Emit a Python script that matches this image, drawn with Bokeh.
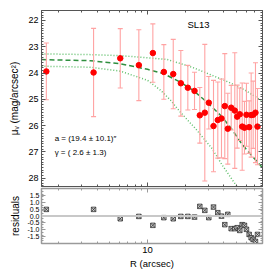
from bokeh.plotting import figure
from bokeh.layouts import column
from bokeh.models import Range1d, FixedTicker, LogAxis, LinearAxis, Span, Label
from bokeh.embed import file_html
from bokeh.resources import INLINE

FONT = "Liberation Sans"

# ---- data ----
radius = [1.594, 3.756, 6.095, 8.54, 11.01, 13.44, 15.94, 18.29, 20.77, 23.45,
          25.81, 28.26, 30.38, 33.09, 35.77, 38.25, 40.61, 42.88, 45.62, 48.68,
          50.85, 53.31, 55.68, 58.04, 60.18, 63.21, 65.54, 67.97, 70.87, 73.48]
mu = [23.94, 23.98, 23.44, 23.70, 23.24, 23.96, 24.04, 24.39, 24.56, 24.68,
      25.61, 25.51, 25.13, 26.02, 25.79, 25.73, 25.26, 26.12, 25.32, 25.43,
      25.66, 25.57, 26.04, 26.08, 25.59, 26.06, 25.60, 25.59, 25.51, 26.04]
mu_err = [1.08, 1.68, 1.13, 1.35, 1.11, 1.04, 1.32, 1.25, 0.85, 0.71,
          1.06, 2.60, 1.00, 1.74, 1.45, 1.50, 2.00, 1.35, 0.85, 2.20,
          1.20, 1.00, 1.66, 1.00, 1.20, 1.00, 1.60, 1.28, 1.90, 1.45]
residual = [0.48, 0.48, -0.20, -0.03, -0.68, -0.12, -0.20, -0.03, -0.03, -0.08,
            0.70, 0.41, -0.12, 0.65, 0.24, -0.01, -0.63, 0.12, -0.92, -0.92,
            -0.85, -1.05, -0.63, -0.68, -0.97, -1.34, -1.58, -1.70, -1.85, -1.34]

model_r = [1.46, 3.56, 6.13, 10.0, 13.44, 18.2, 23.15, 29.5, 37.6, 45.0, 55.7, 70.8, 80.5]
model_mu = [23.49, 23.53, 23.65, 23.86, 24.03, 24.35, 24.68, 25.12, 25.61, 26.06, 26.72, 27.30, 27.60]
upper_r = [1.46, 3.56, 6.13, 10.0, 14.2, 22.5, 32.3, 43.6, 59.1, 75.0, 80.5]
upper_mu = [23.27, 23.30, 23.34, 23.42, 23.48, 23.78, 24.09, 24.35, 24.66, 24.98, 25.05]
lower_r = [1.46, 3.56, 6.13, 10.0, 12.7, 15.2, 18.2, 23.9, 32.3, 38.8, 50.3, 55.0]
lower_mu = [23.74, 23.78, 23.93, 24.28, 24.66, 25.04, 25.50, 26.12, 26.88, 27.51, 28.30, 28.60]

x_major = [10]
x_minor = [2, 3, 4, 5, 6, 7, 8, 9, 20, 30, 40, 50, 60, 70, 80]
y_major = [22, 23, 24, 25, 26, 27, 28]
res_major = [-1.5, -1.0, -0.5, 0.0, 0.5, 1.0, 1.5]
res_labels = ["-1.5", "-1.0", "-0.5", "0.0", "0.5", "1.0", "1.5"]

label_name = "SL13"
label_a = "a = (19.4 \u00b1 10.1)\u2033"
label_g = "\u03b3 = ( 2.6 \u00b1  1.3)"

FRAME = "#555555"
RFRAME = "#9a9a9a"
ERR = "#ffa3a3"

y_minor = [round(21.6 + 0.1 * i, 1) for i in range(1, 68)]
res_minor = [round(-2.0 + 0.2 * i, 1) for i in range(1, 20)]


def style(ax, color, labels=True, size="8.5px", blank=None):
    ax.major_tick_in = 4
    ax.major_tick_out = 0
    ax.minor_tick_in = 2
    ax.minor_tick_out = 0
    ax.axis_line_color = color
    ax.major_tick_line_color = color
    ax.minor_tick_line_color = color
    ax.major_label_text_font = FONT
    ax.major_label_text_color = "black"
    ax.axis_label_text_font = FONT
    ax.axis_label_text_font_style = "normal"
    ax.axis_label_text_color = "black"
    ax.axis_label_text_font_size = "10px"
    ax.major_label_text_font_size = size
    if labels:
        ax.major_label_standoff = 3
    else:
        ax.major_label_standoff = 0
        ax.major_label_text_alpha = 0
        ax.major_label_text_font_size = "1px"
        ax.major_label_overrides = {v: "" for v in blank}


x_range = Range1d(1.46, 80.5)

# ---- top panel ----
p = figure(x_axis_type="log", x_range=x_range, y_range=Range1d(28.32, 21.62),
           frame_width=221, frame_height=176,
           min_border_left=41, min_border_right=4, min_border_top=10, min_border_bottom=1,
           output_backend="svg", toolbar_location=None)
p.grid.visible = False
p.outline_line_color = FRAME
p.background_fill_color = "white"

xt = FixedTicker(ticks=x_major, minor_ticks=x_minor)
yt = FixedTicker(ticks=y_major, minor_ticks=y_minor)
p.xaxis[0].ticker = xt
style(p.xaxis[0], FRAME, labels=False, blank=x_major)
p.yaxis[0].ticker = yt
style(p.yaxis[0], FRAME, labels=True, size="9px")
p.yaxis[0].axis_label = "\u03bc\u1d65 (mag/arcsec\u00b2)"
p.yaxis[0].axis_label_standoff = 5

ra = LinearAxis(ticker=yt)
style(ra, FRAME, labels=False, blank=y_major)
p.add_layout(ra, "right")
ta = LogAxis(ticker=xt)
style(ta, FRAME, labels=False, blank=x_major)
p.add_layout(ta, "above")

p.line(upper_r, upper_mu, line_color="#5fbf6a", line_width=1.5, line_dash="1 2")
p.line(lower_r, lower_mu, line_color="#5fbf6a", line_width=1.5, line_dash="1 2")
p.line(model_r, model_mu, line_color="#2f8f3f", line_width=1.5, line_dash="5 3")

lo = [m - e for m, e in zip(mu, mu_err)]
hi = [m + e for m, e in zip(mu, mu_err)]
p.segment(x0=radius, y0=lo, x1=radius, y1=hi, line_color=ERR, line_width=1.1)
p.scatter(radius, lo, marker="dash", size=5, line_color=ERR, line_width=1.1)
p.scatter(radius, hi, marker="dash", size=5, line_color=ERR, line_width=1.1)
p.scatter(radius, mu, marker="circle", size=5.5, fill_color="#ff0000", line_color="#ff0000")

p.add_layout(Label(x=25.2, y=22.15, text=label_name, text_align="center", text_baseline="middle",
                   text_font=FONT, text_font_size="9.5px", text_color="black"))
p.add_layout(Label(x=1.853, y=26.48, text=label_a, text_align="left", text_baseline="middle",
                   text_font=FONT, text_font_size="8px", text_color="black"))
p.add_layout(Label(x=1.853, y=27.01, text=label_g, text_align="left", text_baseline="middle",
                   text_font=FONT, text_font_size="8px", text_color="black"))

# ---- residual panel ----
r = figure(x_axis_type="log", x_range=x_range, y_range=Range1d(-2.0, 2.0),
           frame_width=221, frame_height=55,
           min_border_left=41, min_border_right=4, min_border_top=1, min_border_bottom=25,
           output_backend="svg", toolbar_location=None)
r.grid.visible = False
r.outline_line_color = RFRAME
r.outline_line_width = 1.5

r.xaxis[0].ticker = xt
style(r.xaxis[0], RFRAME, labels=True, size="9.5px")
r.xaxis[0].major_label_overrides = {10: "10"}
r.xaxis[0].axis_label = "R (arcsec)"
r.xaxis[0].axis_label_standoff = 2
r.xaxis[0].axis_label_text_font_size = "9.5px"

rt = FixedTicker(ticks=res_major, minor_ticks=res_minor)
r.yaxis[0].ticker = rt
style(r.yaxis[0], RFRAME, labels=True, size="7px")
r.yaxis[0].major_label_standoff = 2
r.yaxis[0].major_label_overrides = {v: s for v, s in zip(res_major, res_labels)}
r.yaxis[0].axis_label = "residuals"
r.yaxis[0].axis_label_standoff = 3

rra = LinearAxis(ticker=rt)
style(rra, RFRAME, labels=False, blank=res_major)
r.add_layout(rra, "right")
rta = LogAxis(ticker=xt)
style(rta, RFRAME, labels=False, blank=x_major)
r.add_layout(rta, "above")

r.add_layout(Span(location=0, dimension="width", line_color="#c8c8c8", line_width=2))
r.scatter(radius, residual, marker="square_x", size=4.5, fill_color="#cfcfcf", line_color="#333333",
          line_width=0.8)

layout = column(p, r, spacing=0)
open("out.html", "w").write(file_html(layout, INLINE))
